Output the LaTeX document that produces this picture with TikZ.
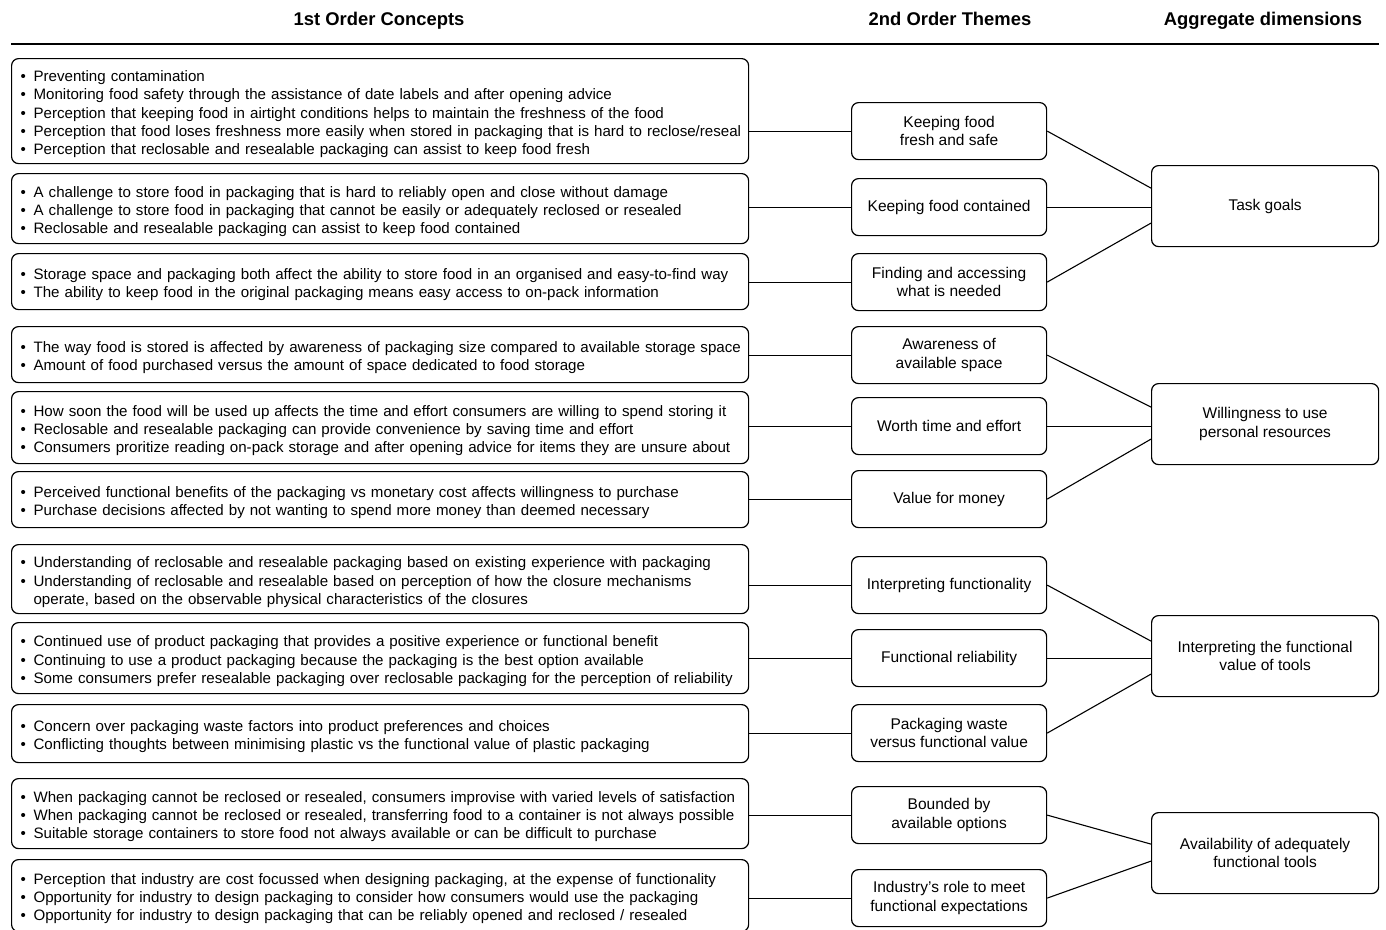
\documentclass[tikz,border=0pt]{standalone}
\usepackage{fontspec}
\setmainfont{Liberation Sans}
\newcommand\itm[1]{\mbox{\makebox[13pt][l]{\textbullet}#1}}
\newcommand\cont[1]{\mbox{\hspace*{13pt}#1}}
\tikzset{
  box/.style={draw, rounded corners=7pt, line width=1.2pt, anchor=north west},
  concept/.style={box, text width=719pt, inner xsep=9pt, inner ysep=0pt, align=left,
    font=\fontsize{15.1}{18.4}\selectfont, execute at begin node={\rule{0pt}{17pt}}},
  theme/.style={box, minimum width=195pt, minimum height=57pt, align=center,
    font=\fontsize{15.5}{18.4}\selectfont},
  dim/.style={box, minimum width=227pt, minimum height=81pt, align=center,
    font=\fontsize{15.5}{18.4}\selectfont},
  head/.style={font=\fontsize{18.4}{20}\selectfont\bfseries, anchor=base},
  link/.style={line width=1.1pt},
}
\begin{document}
\begin{tikzpicture}[x=1pt,y=-1pt]
\useasboundingbox[fill=white] (0,0) rectangle (1386,929);

% column headings
\node[head] (h1) at (379,25) {1st Order Concepts};
\node[head] (h2) at (950,25) {2nd Order Themes};
\node[head] (h3) at (1263,25) {Aggregate dimensions};
\coordinate (rl) at (11,44);
\coordinate (rr) at (1379,44);
\draw[line width=2.4pt] (rl) -- (rr);

% first order concepts
\node[concept, minimum height=105pt] (c1) at (11,58) {%
\itm{Preventing contamination}\\
\itm{Monitoring food safety through the assistance of date labels and after opening advice}\\
\itm{Perception that keeping food in airtight conditions helps to maintain the freshness of the food}\\
\itm{Perception that food loses freshness more easily when stored in packaging that is hard to reclose/reseal}\\
\itm{Perception that reclosable and resealable packaging can assist to keep food fresh}};
\node[concept, minimum height=70pt] (c2) at (11,173) {%
\itm{A challenge to store food in packaging that is hard to reliably open and close without damage}\\
\itm{A challenge to store food in packaging that cannot be easily or adequately reclosed or resealed}\\
\itm{Reclosable and resealable packaging can assist to keep food contained}};
\node[concept, minimum height=56pt] (c3) at (11,253) {%
\itm{Storage space and packaging both affect the ability to store food in an organised and easy-to-find way}\\
\itm{The ability to keep food in the original packaging means easy access to on-pack information}};
\node[concept, minimum height=56pt] (c4) at (11,326) {%
\itm{The way food is stored is affected by awareness of packaging size compared to available storage space}\\
\itm{Amount of food purchased versus the amount of space dedicated to food storage}};
\node[concept, minimum height=72pt] (c5) at (11,391) {%
\itm{How soon the food will be used up affects the time and effort consumers are willing to spend storing it}\\
\itm{Reclosable and resealable packaging can provide convenience by saving time and effort}\\
\itm{Consumers proritize reading on-pack storage and after opening advice for items they are unsure about}};
\node[concept, minimum height=56pt] (c6) at (11,471) {%
\itm{Perceived functional benefits of the packaging vs monetary cost affects willingness to purchase}\\
\itm{Purchase decisions affected by not wanting to spend more money than deemed necessary}};
\node[concept, minimum height=69pt] (c7) at (11,544) {%
\itm{Understanding of reclosable and resealable packaging based on existing experience with packaging}\\
\itm{Understanding of reclosable and resealable based on perception of how the closure mechanisms}\\
\cont{operate, based on the observable physical characteristics of the closures}};
\node[concept, minimum height=71pt] (c8) at (11,622) {%
\itm{Continued use of product packaging that provides a positive experience or functional benefit}\\
\itm{Continuing to use a product packaging because the packaging is the best option available}\\
\itm{Some consumers prefer resealable packaging over reclosable packaging for the perception of reliability}};
\node[concept, minimum height=58pt] (c9) at (11,704) {%
\itm{Concern over packaging waste factors into product preferences and choices}\\
\itm{Conflicting thoughts between minimising plastic vs the functional value of plastic packaging}};
\node[concept, minimum height=70pt] (c10) at (11,778) {%
\itm{When packaging cannot be reclosed or resealed, consumers improvise with varied levels of satisfaction}\\
\itm{When packaging cannot be reclosed or resealed, transferring food to a container is not always possible}\\
\itm{Suitable storage containers to store food not always available or can be difficult to purchase}};
\node[concept, minimum height=72pt] (c11) at (11,859) {%
\itm{Perception that industry are cost focussed when designing packaging, at the expense of functionality}\\
\itm{Opportunity for industry to design packaging to consider how consumers would use the packaging}\\
\itm{Opportunity for industry to design packaging that can be reliably opened and reclosed / resealed}};

% second order themes
\node[theme] (t1)  at (851,102) {Keeping food\\fresh and safe};
\node[theme] (t2)  at (851,178) {Keeping food contained};
\node[theme] (t3)  at (851,253) {Finding and accessing\\what is needed};
\node[theme] (t4)  at (851,326) {Awareness of\\available space};
\node[theme] (t5)  at (851,397) {Worth time and effort};
\node[theme] (t6)  at (851,470) {Value for money};
\node[theme] (t7)  at (851,556) {Interpreting functionality};
\node[theme] (t8)  at (851,629) {Functional reliability};
\node[theme] (t9)  at (851,704) {Packaging waste\\versus functional value};
\node[theme] (t10) at (851,786) {Bounded by\\available options};
\node[theme] (t11) at (851,869) {Industry’s role to meet\\functional expectations};

% aggregate dimensions
\node[dim] (d1) at (1151,165) {Task goals};
\node[dim] (d2) at (1151,383) {Willingness to use\\personal resources};
\node[dim] (d3) at (1151,615) {Interpreting the functional\\value of tools};
\node[dim] (d4) at (1151,812) {Availability of adequately\\functional tools};

% concepts to themes
\foreach \i in {1,...,11}
  \draw[link] (c\i.east |- t\i.west) -- (t\i.west);

% themes to dimensions
\draw[link] (t1.east) -- ([yshift=18pt]d1.west);
\draw[link] (t2.east) -- (t2.east -| d1.west);
\draw[link] (t3.east) -- ([yshift=-17pt]d1.west);
\draw[link] (t4.east) -- ([yshift=17pt]d2.west);
\draw[link] (t5.east) -- (t5.east -| d2.west);
\draw[link] (t6.east) -- ([yshift=-15pt]d2.west);
\draw[link] (t7.east) -- ([yshift=15pt]d3.west);
\draw[link] (t8.east) -- (t8.east -| d3.west);
\draw[link] (t9.east) -- ([yshift=-18pt]d3.west);
\draw[link] (t10.east) -- ([yshift=9pt]d4.west);
\draw[link] (t11.east) -- ([yshift=-8pt]d4.west);
\end{tikzpicture}
\end{document}
